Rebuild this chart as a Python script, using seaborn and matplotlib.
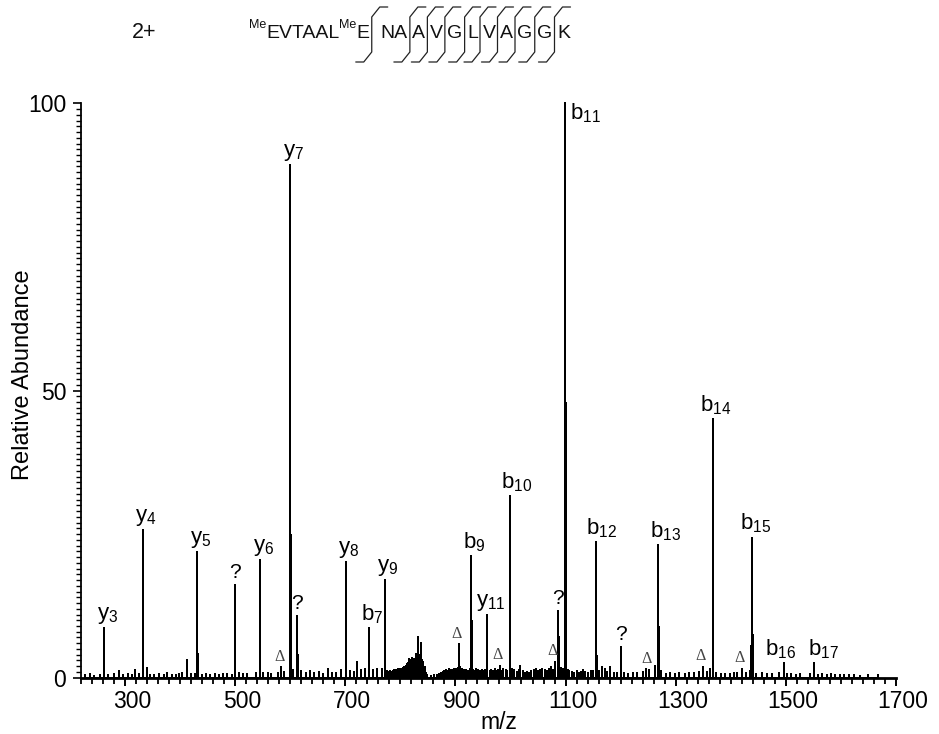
import numpy as np
import pandas as pd
import matplotlib
matplotlib.use("Agg")
import matplotlib.pyplot as plt
import matplotlib.transforms as mtransforms
from matplotlib import font_manager
from matplotlib.lines import Line2D
from matplotlib.ticker import MultipleLocator, FixedLocator
import seaborn as sns

# ---- assigned fragment ions ----
ion_labels = ["y3", "y4", "y5", "y6", "y7", "y8", "b7", "y9", "b9", "y11",
              "b10", "b11", "b12", "b13", "b14", "b15", "b16", "b17"]
ion_mz = [262, 332, 431, 545.5, 600, 700.5, 743, 771.5, 928, 958,
          998.5, 1099, 1155.5, 1268.5, 1367, 1438, 1496, 1551.5]
ion_int = [8.6, 25.7, 21.8, 20.5, 89.3, 20.2, 8.6, 17.0, 21.2, 10.9,
           31.6, 100.0, 23.6, 23.1, 45.0, 24.4, 2.6, 2.6]

# ---- unassigned peaks ("?") ----
unk_mz = [500.5, 613, 1086, 1200]
unk_int = [16.1, 10.7, 11.6, 5.4]

# ---- neutral-loss peaks (Δ) ----
delta_mz = [584, 906, 981, 1080.5, 1251.5, 1349, 1419.5]
delta_int = [1.8, 5.8, 2.0, 2.8, 1.3, 1.9, 1.5]

# ---- unlabelled satellite / isotope peaks ----
sat_mz = [333.5, 340, 412, 432.5, 601.5, 614.5, 701.8, 722, 772.8, 822, 832, 837.5,
          929.5, 1000, 1087.5, 1100.5, 1157, 1181.5, 1270, 1368.5, 1439.5, 1437]
sat_int = [3.9, 1.7, 3.1, 4.2, 24.8, 3.9, 7.3, 2.8, 5.7, 3.4, 7.0, 6.0,
           9.9, 18.3, 7.1, 47.8, 3.8, 1.9, 8.9, 28.0, 7.4, 5.5]

# ---- chemical noise along the baseline ----
noise_mz = [228, 236, 243, 255, 270, 281, 290, 296, 305, 312, 318, 326, 345, 352,
            361, 370, 377, 385, 392, 398, 404, 420, 428, 440, 447, 455, 463, 470,
            478, 486, 494, 507, 515, 522, 538, 551, 559, 566, 577, 588, 606, 620,
            628, 636, 644, 652, 660, 669, 676, 684, 693, 708, 715, 728, 736, 750,
            757, 766, 775,
            780, 782, 784, 786, 788, 790, 792, 794, 796, 798, 800, 802, 804, 806,
            808, 810, 812, 814, 816, 818, 820, 824, 826, 828, 830, 834, 836, 840,
            842, 844, 846, 848, 855, 862, 867,
            871, 874, 877, 880, 883, 886, 889, 892, 895, 898, 901, 904, 909, 912,
            915, 920, 923, 926, 932, 935, 938, 941, 944, 948, 951, 954, 962, 965,
            968, 971, 974, 977, 984, 987, 991, 994,
            1003, 1007, 1011, 1015, 1018, 1022, 1026, 1030, 1034, 1038, 1042, 1046,
            1050, 1054, 1058, 1062, 1066, 1070, 1074, 1078, 1092, 1095, 1104, 1107,
            1112, 1116, 1120, 1124, 1128, 1132, 1136, 1140, 1146, 1150,
            1160, 1166, 1172, 1176, 1188, 1194, 1206, 1214,
            1222, 1230, 1240, 1246, 1262, 1274, 1282, 1290, 1298, 1306, 1316, 1324,
            1334, 1342, 1356, 1362, 1374, 1382, 1390, 1398, 1406, 1412, 1428, 1434,
            1446, 1456, 1466, 1474, 1487, 1502, 1510, 1518, 1526, 1544, 1558, 1566,
            1574, 1582, 1590, 1598, 1606, 1614, 1624, 1634, 1650, 1667]
noise_int = [0.4, 0.6, 0.3, 0.5, 0.4, 0.6, 1.2, 0.5, 0.7, 0.4, 1.3, 0.6, 0.5, 0.4,
             0.6, 0.5, 0.9, 0.4, 0.5, 0.6, 0.9, 0.7, 0.6, 0.5, 0.7, 0.4, 0.6, 0.5,
             0.7, 0.6, 0.5, 0.8, 0.6, 0.7, 0.9, 0.8, 0.9, 0.7, 0.8, 1.0, 1.4, 1.2,
             0.9, 1.1, 0.8, 1.0, 0.7, 1.6, 0.8, 0.9, 1.3, 1.2, 1.0, 1.3, 1.5, 1.4,
             1.6, 1.5, 1.2,
             1.0, 1.1, 1.0, 1.2, 1.3, 1.2, 1.4, 1.3, 1.5, 1.4, 1.6, 1.5, 1.7, 1.8,
             1.9, 2.1, 2.3, 2.6, 3.2, 2.8, 3.0, 3.3, 3.0, 4.2, 3.6, 3.9, 3.4, 3.1,
             2.7, 1.9, 0.8, 0.4, 0.3, 0.4, 0.5,
             0.6, 0.8, 1.0, 1.1, 1.3, 1.2, 1.5, 1.3, 1.4, 1.6, 1.5, 1.7, 1.9, 1.6,
             1.4, 1.3, 1.2, 1.5, 1.4, 1.2, 1.5, 1.3, 1.2, 1.4, 1.1, 1.3, 1.2, 1.4,
             1.1, 1.5, 1.2, 1.3, 1.1, 1.6, 1.3, 1.1,
             1.5, 1.3, 1.0, 1.4, 2.1, 1.2, 0.9, 1.0, 0.8, 1.1, 1.3, 1.5,
             1.2, 1.4, 1.6, 1.3, 1.2, 1.5, 1.8, 1.4, 1.7, 1.5, 1.4, 1.2,
             1.0, 0.9, 1.1, 0.8, 1.0, 1.3, 1.0, 0.9, 1.2, 1.1,
             1.2, 1.8, 1.6, 1.0, 0.8, 0.9, 0.9, 0.7,
             0.8, 0.9, 1.0, 1.6, 2.0, 1.2, 0.6, 0.9, 0.7, 0.8, 0.6, 0.9,
             0.8, 1.0, 1.0, 1.6, 0.9, 0.7, 0.6, 0.7, 0.8, 0.9, 0.9, 1.2,
             0.7, 0.8, 0.6, 0.7, 0.8, 0.6, 0.7, 0.5, 0.6, 0.7, 0.5, 0.6,
             0.5, 0.6, 0.4, 0.5, 0.4, 0.5, 0.4, 0.3, 0.4, 0.5]

# ---- peptide sequence header ----
charge_label = "2+"
seq_prefix = ["Me", "EVTAAL", "Me", "E"]
seq_residues = ["NA", "A", "V", "G", "L", "V", "A", "G", "G", "K"]

x_major = [300, 500, 700, 900, 1100, 1300, 1500, 1700]
y_major = [0, 50, 100]

# ---------------------------------------------------------------------------
sns.set_theme(style="ticks")
plt.rcParams["font.family"] = ["Liberation Sans", "DejaVu Sans"]
plt.rcParams["mathtext.fontset"] = "custom"
plt.rcParams["mathtext.rm"] = "Liberation Sans"
plt.rcParams["mathtext.it"] = "Liberation Sans:italic"
plt.rcParams["mathtext.bf"] = "Liberation Sans:bold"

installed = {f.name for f in font_manager.fontManager.ttflist}
if "Liberation Sans Narrow" in installed:
    seq_family, seq_size, sup_size = "Liberation Sans Narrow", 16.5, 10.5
else:
    seq_family, seq_size, sup_size = "Liberation Sans", 14, 9

W, H = 939, 734
fig = plt.figure(figsize=(W / 100, H / 100), dpi=100)
fig.patch.set_facecolor("white")
ax = fig.add_axes([80.9 / W, 1 - 677.7 / H, (896 - 80.9) / W, (677.7 - 103.3) / H])
ax.set_facecolor("white")

# stick spectrum: every peak becomes a 0 -> height -> 0 excursion
mz_all = np.array(ion_mz + unk_mz + delta_mz + sat_mz + noise_mz, dtype=float)
ab_all = np.array(ion_int + unk_int + delta_int + sat_int + noise_int, dtype=float)
order = np.argsort(mz_all, kind="stable")
mz_all, ab_all = mz_all[order], ab_all[order]
sticks = pd.DataFrame({
    "m/z": np.repeat(mz_all, 3),
    "abundance": np.column_stack([np.zeros_like(ab_all), ab_all,
                                  np.zeros_like(ab_all)]).ravel(),
})
sns.lineplot(data=sticks, x="m/z", y="abundance", sort=False, estimator=None,
             color="black", lw=1.4, ax=ax, clip_on=False)

ax.set_xlim(220, 1700)
ax.set_ylim(0, 100)
ax.xaxis.set_major_locator(FixedLocator(x_major))
ax.xaxis.set_minor_locator(MultipleLocator(20))
ax.yaxis.set_major_locator(FixedLocator(y_major))
ax.yaxis.set_minor_locator(MultipleLocator(1))
ax.grid(False)

for side in ("top", "right"):
    ax.spines[side].set_visible(False)
ax.spines["left"].set_linewidth(1.3)
ax.spines["bottom"].set_linewidth(2.0)
ax.spines["left"].set_color("black")
ax.spines["bottom"].set_color("black")

ax.tick_params(axis="x", which="major", direction="out", length=5.5, width=1.4,
               labelsize=16.5, pad=3.5, color="black", labelcolor="black")
ax.tick_params(axis="x", which="minor", direction="out", length=4.5, width=1.3,
               color="black")
ax.tick_params(axis="y", which="major", direction="out", length=5.5, width=1.2,
               labelsize=16.5, pad=5, color="black", labelcolor="black")
ax.tick_params(axis="y", which="minor", direction="out", length=3.5, width=1.0,
               color="black")

# x tick labels sit slightly right of their ticks
shift = mtransforms.ScaledTranslation(7 / 100, 0, fig.dpi_scale_trans)
for t in ax.xaxis.get_major_ticks():
    t.label1.set_transform(t.label1.get_transform() + shift)

ax.set_xlabel("m/z", fontsize=16.5, color="black")
ax.set_ylabel("Relative Abundance", fontsize=17, color="black")
ax.xaxis.set_label_coords((498.7 - 80.9) / (896 - 80.9), -(711 - 677.7) / 574.4)
ax.xaxis.label.set_va("top")
ax.yaxis.set_label_coords(-(80.9 - 34.5) / (896 - 80.9), 0.527)

# peak annotations (horizontal nudges in points for crowded labels)
nudge = {"b16": -2.5, "b17": 6.5, "b10": 5.0, "b13": 5.0, "b12": 4.0}
for lab, mz, h in zip(ion_labels, ion_mz, ion_int):
    txt = r"$\mathregular{%s_{%s}}$" % (lab[0], lab[1:])
    if h >= 99:
        ax.annotate(txt, (mz, h), xytext=(3.5, 1.5), textcoords="offset points",
                    ha="left", va="top", fontsize=16, color="black",
                    annotation_clip=False)
    else:
        ax.annotate(txt, (mz, h), xytext=(nudge.get(lab, 2.5), 1.5),
                    textcoords="offset points", ha="center", va="bottom",
                    fontsize=16, color="black")
for mz, h in zip(unk_mz, unk_int):
    ax.annotate("?", (mz, h), xytext=(0, 2), textcoords="offset points",
                ha="center", va="bottom", fontsize=15, color="black")
for mz, h in zip(delta_mz, delta_int):
    ax.annotate("Δ", (mz, h), xytext=(-1.5, 2), textcoords="offset points",
                ha="center", va="bottom", fontsize=11.5, color="#444444",
                family="Liberation Serif")

# ---- header: charge state and sequence with fragmentation marks ----
renderer = fig.canvas.get_renderer()


def put(x, y, s, size, family=None):
    t = fig.text(x / W, 1 - y / H, s, fontsize=size, ha="left", va="baseline",
                 color="#111111", family=family or seq_family)
    return t.get_window_extent(renderer).width


def mark(x):
    top, bot, dx, dy, run = 17, 52, 8, 10, 8
    fy = lambda v: 1 - v / H
    fx = lambda v: v / W
    xs = [x - dx - run, x - dx, x, x, x + dx, x + dx + run]
    ys = [bot + dy, bot + dy, bot, top, top - dy, top - dy]
    fig.add_artist(Line2D([fx(v) for v in xs], [fy(v) for v in ys],
                          color="#222222", lw=0.9, transform=fig.transFigure))


put(132, 38, charge_label, 15.5, family="Liberation Sans")
base = 38
x = 249
for piece in seq_prefix:
    if piece == "Me":
        x += put(x, base - 10, piece, sup_size)
    else:
        x += put(x, base, piece, seq_size)
for i, res in enumerate(seq_residues):
    x += 2
    mark(x)
    x += 9 if i == 0 else 2.5
    x += put(x, base, res, seq_size)

fig.savefig("out.png", dpi=100, facecolor="white")
